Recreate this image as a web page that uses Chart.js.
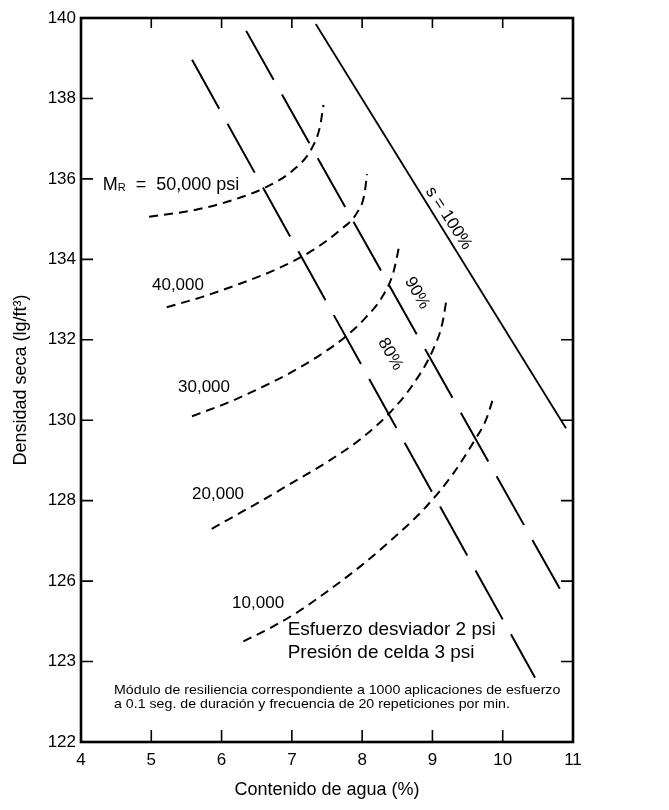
<!DOCTYPE html>
<html>
<head>
<meta charset="utf-8">
<script src="https://cdn.jsdelivr.net/npm/chart.js@4/dist/chart.umd.min.js"></script>
<style>
  body { margin: 0; background: #fff; }
  canvas { display: block; }
</style>
</head>
<body>
<canvas id="chart" width="669" height="810"></canvas>
<script>
// axis ranges / ticks
const X_TICKS = [4, 5, 6, 7, 8, 9, 10, 11];
const Y_TICKS = [122, 124, 126, 128, 130, 132, 134, 136, 138, 140];
// the printed axis shows "123" where 124 sits
const Y_TICK_LABELS = { 124: "123" };

// degree of saturation lines [water %, dry density]
const sat100 = [[7.34, 139.85], [10.90, 129.8]];
const sat90 = [[6.35, 139.68], [10.88, 125.6]];
const sat80 = [[5.58, 138.96], [10.46, 123.6]];

// resilient modulus contours
const mr50000 = [[4.97, 135.06], [5.60, 135.22], [6.17, 135.48], [6.64, 135.80], [7.02, 136.22], [7.28, 136.75], [7.40, 137.30], [7.45, 137.84]];
const mr40000 = [[5.22, 132.81], [5.75, 133.08], [6.27, 133.40], [6.79, 133.76], [7.31, 134.24], [7.68, 134.72], [7.92, 135.14], [8.03, 135.60], [8.07, 136.12]];
const mr30000 = [[5.58, 130.10], [6.08, 130.43], [6.50, 130.76], [7.00, 131.20], [7.40, 131.62], [7.78, 132.10], [8.05, 132.55], [8.28, 133.05], [8.44, 133.65], [8.53, 134.35]];
const mr20000 = [[5.86, 127.30], [6.55, 127.98], [7.02, 128.46], [7.50, 128.96], [7.97, 129.52], [8.39, 130.18], [8.72, 130.88], [9.00, 131.72], [9.14, 132.40], [9.20, 133.00]];
const mr10000 = [[6.31, 124.50], [6.74, 124.88], [7.10, 125.25], [7.50, 125.74], [7.97, 126.36], [8.35, 126.92], [8.91, 127.85], [9.29, 128.66], [9.60, 129.50], [9.76, 130.00], [9.86, 130.52]];

const FONT = "'Liberation Sans', Arial, Helvetica, sans-serif";

const pts = arr => arr.map(([x, y]) => ({ x, y }));

function satLine(arr, dash) {
  return {
    data: pts(arr), showLine: true, pointRadius: 0,
    borderColor: "#000", borderWidth: dash ? 2 : 1.8,
    borderDash: dash || [], tension: 0
  };
}

function mrCurve(arr) {
  return {
    data: pts(arr), showLine: true, pointRadius: 0,
    borderColor: "#000", borderWidth: 2,
    borderDash: [9, 6], cubicInterpolationMode: "monotone"
  };
}

// black frame with inward tick marks on all four sides
const framePlugin = {
  id: "frame",
  afterDatasetsDraw(chart) {
    const { ctx, chartArea: a, scales: { x, y } } = chart;
    ctx.save();
    ctx.strokeStyle = "#000";
    ctx.lineWidth = 1.6;
    ctx.beginPath();
    X_TICKS.slice(1, -1).forEach(v => {
      const px = x.getPixelForValue(v);
      ctx.moveTo(px, a.bottom); ctx.lineTo(px, a.bottom - 12);
      ctx.moveTo(px, a.top); ctx.lineTo(px, a.top + 10);
    });
    Y_TICKS.slice(1, -1).forEach(v => {
      const py = y.getPixelForValue(v);
      ctx.moveTo(a.left, py); ctx.lineTo(a.left + 12, py);
      ctx.moveTo(a.right, py); ctx.lineTo(a.right - 12, py);
    });
    ctx.stroke();
    ctx.lineWidth = 2.6;
    ctx.strokeRect(a.left, a.top, a.right - a.left, a.bottom - a.top);
    ctx.restore();
  }
};

// curve names and notes inside the plot
const labelPlugin = {
  id: "labels",
  afterDatasetsDraw(chart) {
    const { ctx, scales: { x, y } } = chart;
    const at = (vx, vy) => [x.getPixelForValue(vx), y.getPixelForValue(vy)];
    ctx.save();
    ctx.fillStyle = "#000";
    ctx.textBaseline = "middle";
    ctx.textAlign = "left";

    // M_R = 50,000 psi
    let [px, py] = at(4.31, 135.84);
    ctx.font = "18px " + FONT;
    ctx.fillText("M", px, py);
    px += ctx.measureText("M").width;
    ctx.font = "11px " + FONT;
    ctx.fillText("R", px, py + 3);
    px += ctx.measureText("R").width;
    ctx.font = "18px " + FONT;
    ctx.fillText("  =  50,000 psi", px, py);

    ctx.font = "17px " + FONT;
    [["40,000", 5.01, 133.36], ["30,000", 5.38, 130.82],
     ["20,000", 5.58, 128.16], ["10,000", 6.15, 125.45]].forEach(([t, vx, vy]) => {
      const [lx, ly] = at(vx, vy);
      ctx.fillText(t, lx, ly);
    });

    // rotated saturation labels
    ctx.textAlign = "center";
    [["s = 100%", 9.23, 135.02, 57], ["90%", 8.78, 133.16, 60], ["80%", 8.40, 131.64, 60]].forEach(([t, vx, vy, deg]) => {
      const [lx, ly] = at(vx, vy);
      ctx.save();
      ctx.translate(lx, ly);
      ctx.rotate(deg * Math.PI / 180);
      ctx.fillText(t, 0, 0);
      ctx.restore();
    });

    // test conditions
    ctx.textAlign = "left";
    ctx.font = "19px " + FONT;
    let [tx, ty] = at(6.94, 124.78);
    ctx.fillText("Esfuerzo desviador 2 psi", tx, ty);
    [tx, ty] = at(6.94, 124.22);
    ctx.fillText("Presión de celda 3 psi", tx, ty);

    ctx.font = "13px " + FONT;
    const note = [
      ["Módulo de resiliencia correspondiente a 1000 aplicaciones de esfuerzo", 123.28],
      ["a 0.1 seg. de duración y frecuencia de 20 repeticiones por min.", 122.94]
    ];
    const fullW = ctx.measureText(note[0][0]).width;
    const targetW = x.getPixelForValue(10.82) - x.getPixelForValue(4.47);
    const sx = targetW / fullW;
    note.forEach(([t, vy]) => {
      const [nx, ny] = at(4.47, vy);
      ctx.save();
      ctx.translate(nx, ny);
      ctx.scale(sx, 1);
      ctx.fillText(t, 0, 0);
      ctx.restore();
    });
    ctx.restore();
  }
};

new Chart(document.getElementById("chart"), {
  type: "scatter",
  data: {
    datasets: [
      satLine(sat100),
      satLine(sat90, [56, 17]),
      satLine(sat80, [56, 17]),
      mrCurve(mr50000),
      mrCurve(mr40000),
      mrCurve(mr30000),
      mrCurve(mr20000),
      mrCurve(mr10000)
    ]
  },
  options: {
    responsive: false,
    animation: false,
    layout: { padding: { top: 18, right: 96, left: 0, bottom: 0 } },
    plugins: { legend: { display: false }, tooltip: { enabled: false } },
    scales: {
      x: {
        type: "linear", min: 4, max: 11,
        afterBuildTicks: s => { s.ticks = X_TICKS.map(v => ({ value: v })); },
        afterFit: s => { s.height = 68; },
        grid: { display: false, drawTicks: false },
        border: { display: false },
        ticks: { color: "#000", padding: 8, font: { family: FONT, size: 17 } },
        title: {
          display: true, text: "Contenido de agua (%)", color: "#000",
          font: { family: FONT, size: 18 }, padding: { top: 0, bottom: 9 }
        }
      },
      y: {
        type: "linear", min: 122, max: 140,
        afterBuildTicks: s => { s.ticks = Y_TICKS.map(v => ({ value: v })); },
        afterFit: s => { s.width = 81; },
        grid: { display: false, drawTicks: false },
        border: { display: false },
        ticks: {
          color: "#000", padding: 5, font: { family: FONT, size: 17 },
          callback: v => Y_TICK_LABELS[v] || String(v)
        },
        title: {
          display: true, text: "Densidad seca (lg/ft³)", color: "#000",
          font: { family: FONT, size: 18 }, padding: { top: 10, bottom: 0 }
        }
      }
    }
  },
  plugins: [framePlugin, labelPlugin]
});
</script>
</body>
</html>
